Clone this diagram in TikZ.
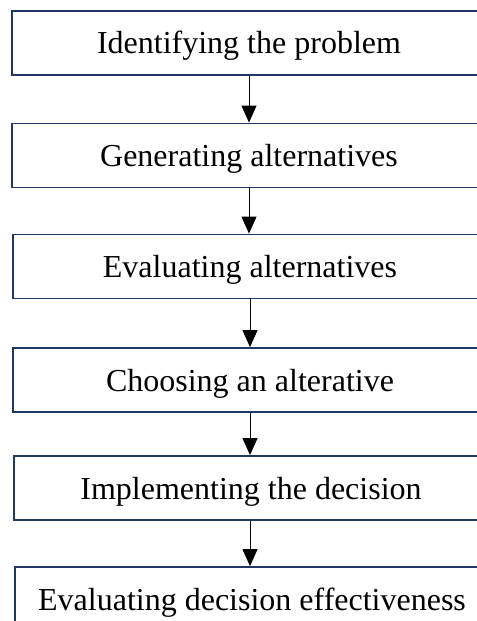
\documentclass[tikz,border=0pt]{standalone}
\usepackage{fontspec}
\setmainfont{Liberation Serif}
\usetikzlibrary{arrows.meta}

\definecolor{boxblue}{HTML}{1F3864}

\tikzset{
  stepbox/.style={draw=boxblue, line width=1.8bp, minimum width=474bp,
    minimum height=64bp, inner sep=0pt, anchor=center,
    text height=25bp, text depth=3bp,
    font=\fontsize{32bp}{38bp}\selectfont},
  flow/.style={line width=1bp, -{Triangle[width=15bp,length=17bp]}}
}

\begin{document}
\begin{tikzpicture}[x=1bp, y=-1bp]
      \useasboundingbox (0,0) rectangle (477,621);
      \node[stepbox] (s1) at (249, 43) {Identifying the problem};
      \node[stepbox] (s2) at (249, 155.5) {Generating alternatives};
      \node[stepbox] (s3) at (250, 266.5) {Evaluating alternatives};
      \node[stepbox] (s4) at (250, 380) {Choosing an alterative};
      \node[stepbox] (s5) at (251, 488) {Implementing the decision};
      \node[stepbox] (s6) at (252, 599) {Evaluating decision effectiveness};
      \draw[flow] (s1.south -| 249,0) -- (s2.north -| 249,0);
      \draw[flow] (s2.south -| 249,0) -- (s3.north -| 249,0);
      \draw[flow] (s3.south -| 250,0) -- (s4.north -| 250,0);
      \draw[flow] (s4.south -| 250,0) -- (s5.north -| 250,0);
      \draw[flow] (s5.south -| 250,0) -- (s6.north -| 250,0);
    \end{tikzpicture}
\end{document}
